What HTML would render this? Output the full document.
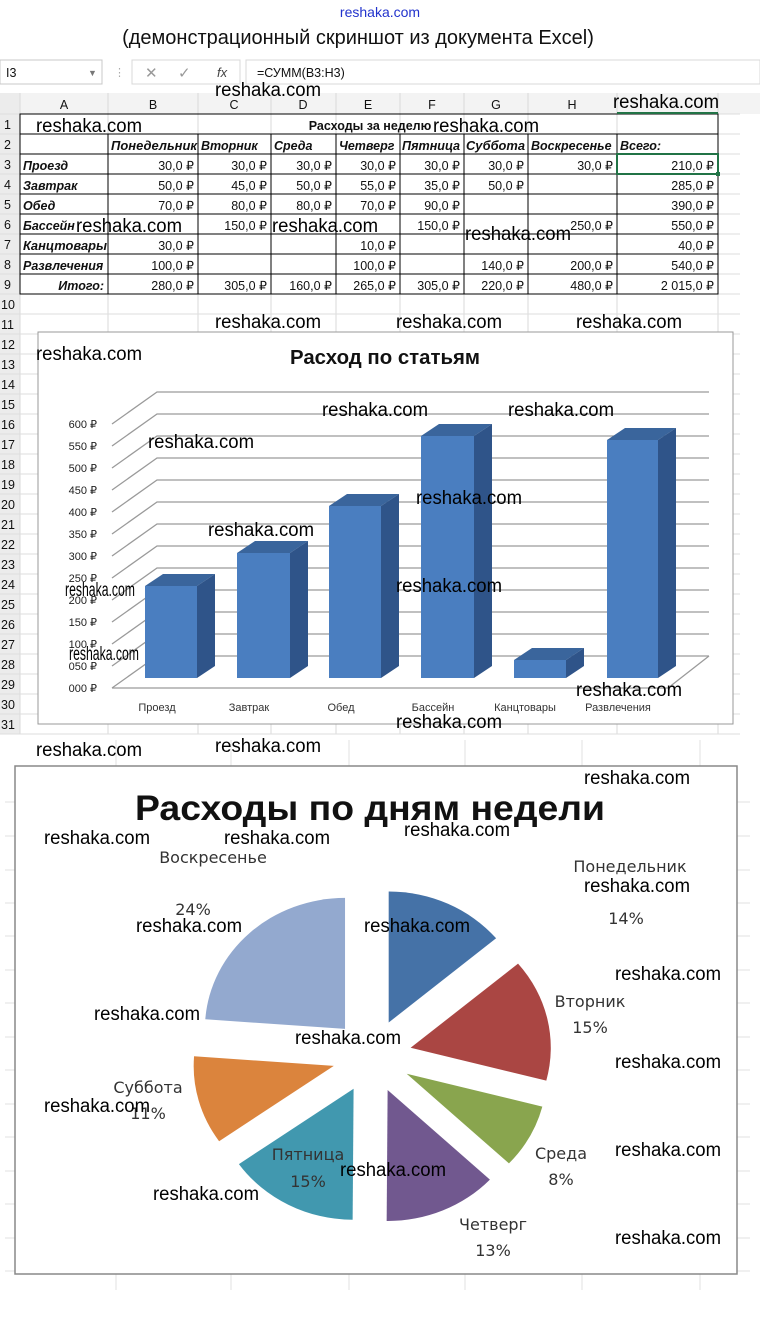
<!DOCTYPE html>
<html><head><meta charset="utf-8"><style>
html,body{margin:0;padding:0;background:#fff;}
svg{display:block;}
text{font-family:"Liberation Sans",sans-serif;}
.n{font-family:"Liberation Sans Narrow","Liberation Sans",sans-serif;font-size:12.5px;fill:#111;}
.w{font-family:"Liberation Sans Narrow","Liberation Sans",sans-serif;font-size:19px;fill:#000;text-anchor:middle;}
.h{font-family:"Liberation Sans Narrow","Liberation Sans",sans-serif;font-size:12.5px;fill:#111;font-weight:bold;font-style:italic;}
.ax{font-family:"Liberation Sans Narrow","Liberation Sans",sans-serif;font-size:11px;fill:#222;text-anchor:end;}
.cat{font-family:"Liberation Sans Narrow","Liberation Sans",sans-serif;font-size:11px;fill:#333;text-anchor:middle;}
.pl{font-family:"DejaVu Sans",sans-serif;font-size:16px;fill:#333;text-anchor:middle;}
</style></head><body>
<svg width="760" height="1326" viewBox="0 0 760 1326" xmlns="http://www.w3.org/2000/svg">
<rect width="760" height="1326" fill="#fff"/>
<text x="380" y="17" font-size="14" fill="#2233cc" text-anchor="middle">reshaka.com</text>
<text x="358" y="44" font-size="20" fill="#111" text-anchor="middle">(демонстрационный скриншот из документа Excel)</text>

<rect x="0" y="56" width="760" height="34" fill="#fff"/>
<rect x="0" y="60" width="102" height="24" fill="#fff" stroke="#c8c8c8"/>
<text x="6" y="77" class="n">I3</text>
<text x="88" y="76" font-size="9" fill="#777">▼</text>
<text x="114" y="76" font-size="11" fill="#aaa">⋮</text>
<rect x="132" y="60" width="108" height="24" fill="#fff" stroke="#d8d8d8"/>
<text x="145" y="78" font-size="15" fill="#999">✕</text>
<text x="178" y="78" font-size="15" fill="#999">✓</text>
<text x="217" y="77" font-size="13" fill="#444" font-style="italic" font-family="Liberation Serif">fx</text>
<rect x="246" y="60" width="514" height="24" fill="#fff" stroke="#d8d8d8"/>
<text x="257" y="77" class="n">=СУММ(B3:H3)</text>

<rect x="0" y="93" width="760" height="21" fill="#f3f3f3"/>
<rect x="0" y="93" width="20" height="641" fill="#ececec"/>
<g stroke="#dadada" stroke-width="1">
<line x1="20" y1="93" x2="20" y2="734"/><line x1="108" y1="93" x2="108" y2="734"/><line x1="198" y1="93" x2="198" y2="734"/><line x1="271" y1="93" x2="271" y2="734"/><line x1="336" y1="93" x2="336" y2="734"/><line x1="400" y1="93" x2="400" y2="734"/><line x1="464" y1="93" x2="464" y2="734"/><line x1="528" y1="93" x2="528" y2="734"/><line x1="617" y1="93" x2="617" y2="734"/><line x1="718" y1="93" x2="718" y2="734"/>
</g>
<g stroke="#dedede">
<line x1="0" y1="114" x2="740" y2="114"/><line x1="0" y1="134" x2="740" y2="134"/><line x1="0" y1="154" x2="740" y2="154"/><line x1="0" y1="174" x2="740" y2="174"/><line x1="0" y1="194" x2="740" y2="194"/><line x1="0" y1="214" x2="740" y2="214"/><line x1="0" y1="234" x2="740" y2="234"/><line x1="0" y1="254" x2="740" y2="254"/><line x1="0" y1="274" x2="740" y2="274"/><line x1="0" y1="294" x2="740" y2="294"/><line x1="0" y1="314" x2="740" y2="314"/><line x1="0" y1="334" x2="740" y2="334"/><line x1="0" y1="354" x2="740" y2="354"/><line x1="0" y1="374" x2="740" y2="374"/><line x1="0" y1="394" x2="740" y2="394"/><line x1="0" y1="414" x2="740" y2="414"/><line x1="0" y1="434" x2="740" y2="434"/><line x1="0" y1="454" x2="740" y2="454"/><line x1="0" y1="474" x2="740" y2="474"/><line x1="0" y1="494" x2="740" y2="494"/><line x1="0" y1="514" x2="740" y2="514"/><line x1="0" y1="534" x2="740" y2="534"/><line x1="0" y1="554" x2="740" y2="554"/><line x1="0" y1="574" x2="740" y2="574"/><line x1="0" y1="594" x2="740" y2="594"/><line x1="0" y1="614" x2="740" y2="614"/><line x1="0" y1="634" x2="740" y2="634"/><line x1="0" y1="654" x2="740" y2="654"/><line x1="0" y1="674" x2="740" y2="674"/><line x1="0" y1="694" x2="740" y2="694"/><line x1="0" y1="714" x2="740" y2="714"/><line x1="0" y1="734" x2="740" y2="734"/>
</g>
<text x="64" y="109" class="n" text-anchor="middle">A</text><text x="153" y="109" class="n" text-anchor="middle">B</text><text x="234" y="109" class="n" text-anchor="middle">C</text><text x="303" y="109" class="n" text-anchor="middle">D</text><text x="368" y="109" class="n" text-anchor="middle">E</text><text x="432" y="109" class="n" text-anchor="middle">F</text><text x="496" y="109" class="n" text-anchor="middle">G</text><text x="572" y="109" class="n" text-anchor="middle">H</text>
<g>
<text x="4" y="129" class="n">1</text><text x="4" y="149" class="n">2</text><text x="4" y="169" class="n">3</text><text x="4" y="189" class="n">4</text><text x="4" y="209" class="n">5</text><text x="4" y="229" class="n">6</text><text x="4" y="249" class="n">7</text><text x="4" y="269" class="n">8</text><text x="4" y="289" class="n">9</text><text x="1" y="309" class="n">10</text><text x="1" y="329" class="n">11</text><text x="1" y="349" class="n">12</text><text x="1" y="369" class="n">13</text><text x="1" y="389" class="n">14</text><text x="1" y="409" class="n">15</text><text x="1" y="429" class="n">16</text><text x="1" y="449" class="n">17</text><text x="1" y="469" class="n">18</text><text x="1" y="489" class="n">19</text><text x="1" y="509" class="n">20</text><text x="1" y="529" class="n">21</text><text x="1" y="549" class="n">22</text><text x="1" y="569" class="n">23</text><text x="1" y="589" class="n">24</text><text x="1" y="609" class="n">25</text><text x="1" y="629" class="n">26</text><text x="1" y="649" class="n">27</text><text x="1" y="669" class="n">28</text><text x="1" y="689" class="n">29</text><text x="1" y="709" class="n">30</text><text x="1" y="729" class="n">31</text>
</g>

<g stroke="#000" stroke-width="1" fill="none">
<rect x="20" y="114" width="698" height="180"/>
<line x1="20" y1="134" x2="718" y2="134"/><line x1="20" y1="154" x2="718" y2="154"/><line x1="20" y1="174" x2="718" y2="174"/><line x1="20" y1="194" x2="718" y2="194"/><line x1="20" y1="214" x2="718" y2="214"/><line x1="20" y1="234" x2="718" y2="234"/><line x1="20" y1="254" x2="718" y2="254"/><line x1="20" y1="274" x2="718" y2="274"/>
<line x1="108" y1="134" x2="108" y2="294"/><line x1="198" y1="134" x2="198" y2="294"/><line x1="271" y1="134" x2="271" y2="294"/><line x1="336" y1="134" x2="336" y2="294"/><line x1="400" y1="134" x2="400" y2="294"/><line x1="464" y1="134" x2="464" y2="294"/><line x1="528" y1="134" x2="528" y2="294"/><line x1="617" y1="134" x2="617" y2="294"/>
</g>
<rect x="617" y="154" width="101" height="20" fill="none" stroke="#217346" stroke-width="2"/>
<rect x="716" y="172" width="4" height="4" fill="#217346"/>
<line x1="617" y1="113" x2="718" y2="113" stroke="#217346" stroke-width="2"/>

<text x="370" y="130" class="n" font-weight="bold" text-anchor="middle" font-size="12">Расходы за неделю</text>
<text x="111" y="150" class="h" textLength="86" lengthAdjust="spacingAndGlyphs">Понедельник</text><text x="201" y="150" class="h">Вторник</text><text x="274" y="150" class="h">Среда</text><text x="339" y="150" class="h">Четверг</text><text x="402" y="150" class="h" textLength="58" lengthAdjust="spacingAndGlyphs">Пятница</text><text x="466" y="150" class="h" textLength="59" lengthAdjust="spacingAndGlyphs">Суббота</text><text x="531" y="150" class="h">Воскресенье</text><text x="620" y="150" class="h">Всего:</text>
<text x="23" y="170" class="h">Проезд</text><text x="23" y="190" class="h">Завтрак</text><text x="23" y="210" class="h">Обед</text><text x="23" y="230" class="h">Бассейн</text><text x="23" y="250" class="h" textLength="84" lengthAdjust="spacingAndGlyphs">Канцтовары</text><text x="23" y="270" class="h">Развлечения</text><text x="104" y="290" class="h" text-anchor="end">Итого:</text>
<g>
<text x="194" y="170" class="n" text-anchor="end">30,0 ₽</text><text x="267" y="170" class="n" text-anchor="end">30,0 ₽</text><text x="332" y="170" class="n" text-anchor="end">30,0 ₽</text><text x="396" y="170" class="n" text-anchor="end">30,0 ₽</text><text x="460" y="170" class="n" text-anchor="end">30,0 ₽</text><text x="524" y="170" class="n" text-anchor="end">30,0 ₽</text><text x="613" y="170" class="n" text-anchor="end">30,0 ₽</text><text x="714" y="170" class="n" text-anchor="end">210,0 ₽</text>
<text x="194" y="190" class="n" text-anchor="end">50,0 ₽</text><text x="267" y="190" class="n" text-anchor="end">45,0 ₽</text><text x="332" y="190" class="n" text-anchor="end">50,0 ₽</text><text x="396" y="190" class="n" text-anchor="end">55,0 ₽</text><text x="460" y="190" class="n" text-anchor="end">35,0 ₽</text><text x="524" y="190" class="n" text-anchor="end">50,0 ₽</text><text x="714" y="190" class="n" text-anchor="end">285,0 ₽</text>
<text x="194" y="210" class="n" text-anchor="end">70,0 ₽</text><text x="267" y="210" class="n" text-anchor="end">80,0 ₽</text><text x="332" y="210" class="n" text-anchor="end">80,0 ₽</text><text x="396" y="210" class="n" text-anchor="end">70,0 ₽</text><text x="460" y="210" class="n" text-anchor="end">90,0 ₽</text><text x="714" y="210" class="n" text-anchor="end">390,0 ₽</text>
<text x="267" y="230" class="n" text-anchor="end">150,0 ₽</text><text x="460" y="230" class="n" text-anchor="end">150,0 ₽</text><text x="613" y="230" class="n" text-anchor="end">250,0 ₽</text><text x="714" y="230" class="n" text-anchor="end">550,0 ₽</text>
<text x="194" y="250" class="n" text-anchor="end">30,0 ₽</text><text x="396" y="250" class="n" text-anchor="end">10,0 ₽</text><text x="714" y="250" class="n" text-anchor="end">40,0 ₽</text>
<text x="194" y="270" class="n" text-anchor="end">100,0 ₽</text><text x="396" y="270" class="n" text-anchor="end">100,0 ₽</text><text x="524" y="270" class="n" text-anchor="end">140,0 ₽</text><text x="613" y="270" class="n" text-anchor="end">200,0 ₽</text><text x="714" y="270" class="n" text-anchor="end">540,0 ₽</text>
<text x="194" y="290" class="n" text-anchor="end">280,0 ₽</text><text x="267" y="290" class="n" text-anchor="end">305,0 ₽</text><text x="332" y="290" class="n" text-anchor="end">160,0 ₽</text><text x="396" y="290" class="n" text-anchor="end">265,0 ₽</text><text x="460" y="290" class="n" text-anchor="end">305,0 ₽</text><text x="524" y="290" class="n" text-anchor="end">220,0 ₽</text><text x="613" y="290" class="n" text-anchor="end">480,0 ₽</text><text x="714" y="290" class="n" text-anchor="end">2 015,0 ₽</text>
</g>

<rect x="38" y="332" width="695" height="392" fill="#fff" stroke="#999"/>
<text x="385" y="364" font-size="20" font-weight="bold" fill="#111" text-anchor="middle" textLength="190" lengthAdjust="spacingAndGlyphs">Расход по статьям</text>
<g stroke="#9a9a9a" stroke-width="1.3" fill="none">
<path d="M112,688 L157,656 L709,656 M112,666 L157,634 L709,634 M112,644 L157,612 L709,612 M112,622 L157,590 L709,590 M112,600 L157,568 L709,568 M112,578 L157,546 L709,546 M112,556 L157,524 L709,524 M112,534 L157,502 L709,502 M112,512 L157,480 L709,480 M112,490 L157,458 L709,458 M112,468 L157,436 L709,436 M112,446 L157,414 L709,414 M112,424 L157,392 L709,392"/>
<path d="M112,688 L668,688 L709,656"/>
</g>
<g>
<text x="97" y="428" class="ax">600 ₽</text><text x="97" y="450" class="ax">550 ₽</text><text x="97" y="472" class="ax">500 ₽</text><text x="97" y="494" class="ax">450 ₽</text><text x="97" y="516" class="ax">400 ₽</text><text x="97" y="538" class="ax">350 ₽</text><text x="97" y="560" class="ax">300 ₽</text><text x="97" y="582" class="ax">250 ₽</text><text x="97" y="604" class="ax">200 ₽</text><text x="97" y="626" class="ax">150 ₽</text><text x="97" y="648" class="ax">100 ₽</text><text x="97" y="670" class="ax">050 ₽</text><text x="97" y="692" class="ax">000 ₽</text>
</g>
<g>
<polygon points="145,586 163,574 215,574 197,586" fill="#3a659c"/><polygon points="197,586 215,574 215,666 197,678" fill="#2f5489"/><rect x="145" y="586" width="52" height="92" fill="#4a7ec0"/>
<polygon points="237,553 255,541 308,541 290,553" fill="#3a659c"/><polygon points="290,553 308,541 308,666 290,678" fill="#2f5489"/><rect x="237" y="553" width="53" height="125" fill="#4a7ec0"/>
<polygon points="329,506 347,494 399,494 381,506" fill="#3a659c"/><polygon points="381,506 399,494 399,666 381,678" fill="#2f5489"/><rect x="329" y="506" width="52" height="172" fill="#4a7ec0"/>
<polygon points="421,436 439,424 492,424 474,436" fill="#3a659c"/><polygon points="474,436 492,424 492,666 474,678" fill="#2f5489"/><rect x="421" y="436" width="53" height="242" fill="#4a7ec0"/>
<polygon points="514,660 532,648 584,648 566,660" fill="#3a659c"/><polygon points="566,660 584,648 584,666 566,678" fill="#2f5489"/><rect x="514" y="660" width="52" height="18" fill="#4a7ec0"/>
<polygon points="607,440 625,428 676,428 658,440" fill="#3a659c"/><polygon points="658,440 676,428 676,666 658,678" fill="#2f5489"/><rect x="607" y="440" width="51" height="238" fill="#4a7ec0"/>
</g>
<text x="157" y="711" class="cat">Проезд</text><text x="249" y="711" class="cat">Завтрак</text><text x="341" y="711" class="cat">Обед</text><text x="433" y="711" class="cat">Бассейн</text><text x="525" y="711" class="cat">Канцтовары</text><text x="618" y="711" class="cat">Развлечения</text>

<g stroke="#e2e2e2">
<line x1="116" y1="740" x2="116" y2="1290"/><line x1="231" y1="740" x2="231" y2="1290"/><line x1="349" y1="740" x2="349" y2="1290"/><line x1="465" y1="740" x2="465" y2="1290"/><line x1="582" y1="740" x2="582" y2="1290"/><line x1="700" y1="740" x2="700" y2="1290"/>
<line x1="5" y1="802" x2="750" y2="802"/><line x1="5" y1="836" x2="750" y2="836"/><line x1="5" y1="870" x2="750" y2="870"/><line x1="5" y1="903" x2="750" y2="903"/><line x1="5" y1="936" x2="750" y2="936"/><line x1="5" y1="970" x2="750" y2="970"/><line x1="5" y1="1003" x2="750" y2="1003"/><line x1="5" y1="1037" x2="750" y2="1037"/><line x1="5" y1="1070" x2="750" y2="1070"/><line x1="5" y1="1104" x2="750" y2="1104"/><line x1="5" y1="1137" x2="750" y2="1137"/><line x1="5" y1="1171" x2="750" y2="1171"/><line x1="5" y1="1204" x2="750" y2="1204"/><line x1="5" y1="1238" x2="750" y2="1238"/><line x1="5" y1="1271" x2="750" y2="1271"/>
</g>

<rect x="15" y="766" width="722" height="508" fill="#fff" stroke="#888" stroke-width="1.5"/>
<text x="370" y="820" font-size="35" font-weight="bold" fill="#111" text-anchor="middle" font-family="DejaVu Sans, sans-serif" textLength="470" lengthAdjust="spacingAndGlyphs">Расходы по дням недели</text>
<g transform="translate(372,1056) scale(1.07,1)">
<path transform="translate(15.6,-33.5)" d="M0,0 L0,-131 A131,131 0 0 1 100.4,-84.2 Z" fill="#4572a7"/>
<path transform="translate(36.1,-8.2)" d="M0,0 L100.4,-84.2 A131,131 0 0 1 126.8,32.8 Z" fill="#aa4643"/>
<path transform="translate(32.4,17.8)" d="M0,0 L126.8,32.8 A131,131 0 0 1 95.6,89.6 Z" fill="#89a54e"/>
<path transform="translate(14.6,34)" d="M0,0 L95.6,89.6 A131,131 0 0 1 -0.9,131 Z" fill="#71588f"/>
<path transform="translate(-17.2,32.8)" d="M0,0 L-0.9,131 A131,131 0 0 1 -107.2,75.3 Z" fill="#4198af"/>
<path transform="translate(-35.7,9.9)" d="M0,0 L-107.2,75.3 A131,131 0 0 1 -130.6,-9.6 Z" fill="#db843d"/>
<path transform="translate(-25.2,-27.1)" d="M0,0 L-130.6,-9.6 A131,131 0 0 1 0,-131 Z" fill="#93a9cf"/>
</g>
<text x="630" y="872" class="pl">Понедельник</text><text x="626" y="924" class="pl">14%</text>
<text x="590" y="1007" class="pl">Вторник</text><text x="590" y="1033" class="pl">15%</text>
<text x="561" y="1159" class="pl">Среда</text><text x="561" y="1185" class="pl">8%</text>
<text x="493" y="1230" class="pl">Четверг</text><text x="493" y="1256" class="pl">13%</text>
<text x="308" y="1160" class="pl">Пятница</text><text x="308" y="1187" class="pl">15%</text>
<text x="148" y="1093" class="pl">Суббота</text><text x="148" y="1119" class="pl">11%</text>
<text x="213" y="863" class="pl">Воскресенье</text><text x="193" y="915" class="pl">24%</text>

<g>
<text x="268" y="96" class="w" textLength="106" lengthAdjust="spacingAndGlyphs">reshaka.com</text><text x="666" y="108" class="w" textLength="106" lengthAdjust="spacingAndGlyphs">reshaka.com</text><text x="89" y="132" class="w" textLength="106" lengthAdjust="spacingAndGlyphs">reshaka.com</text><text x="486" y="132" class="w" textLength="106" lengthAdjust="spacingAndGlyphs">reshaka.com</text><text x="129" y="232" class="w" textLength="106" lengthAdjust="spacingAndGlyphs">reshaka.com</text><text x="325" y="232" class="w" textLength="106" lengthAdjust="spacingAndGlyphs">reshaka.com</text><text x="518" y="240" class="w" textLength="106" lengthAdjust="spacingAndGlyphs">reshaka.com</text>
<text x="268" y="328" class="w" textLength="106" lengthAdjust="spacingAndGlyphs">reshaka.com</text><text x="449" y="328" class="w" textLength="106" lengthAdjust="spacingAndGlyphs">reshaka.com</text><text x="629" y="328" class="w" textLength="106" lengthAdjust="spacingAndGlyphs">reshaka.com</text><text x="89" y="360" class="w" textLength="106" lengthAdjust="spacingAndGlyphs">reshaka.com</text><text x="201" y="448" class="w" textLength="106" lengthAdjust="spacingAndGlyphs">reshaka.com</text><text x="375" y="416" class="w" textLength="106" lengthAdjust="spacingAndGlyphs">reshaka.com</text><text x="561" y="416" class="w" textLength="106" lengthAdjust="spacingAndGlyphs">reshaka.com</text><text x="261" y="536" class="w" textLength="106" lengthAdjust="spacingAndGlyphs">reshaka.com</text><text x="469" y="504" class="w" textLength="106" lengthAdjust="spacingAndGlyphs">reshaka.com</text><text x="449" y="592" class="w" textLength="106" lengthAdjust="spacingAndGlyphs">reshaka.com</text><text x="629" y="696" class="w" textLength="106" lengthAdjust="spacingAndGlyphs">reshaka.com</text><text x="449" y="728" class="w" textLength="106" lengthAdjust="spacingAndGlyphs">reshaka.com</text>
<text x="100" y="596" class="w" font-size="13" textLength="70" lengthAdjust="spacingAndGlyphs">reshaka.com</text><text x="104" y="660" class="w" font-size="13" textLength="70" lengthAdjust="spacingAndGlyphs">reshaka.com</text>
<text x="89" y="756" class="w" textLength="106" lengthAdjust="spacingAndGlyphs">reshaka.com</text><text x="268" y="752" class="w" textLength="106" lengthAdjust="spacingAndGlyphs">reshaka.com</text><text x="637" y="784" class="w" textLength="106" lengthAdjust="spacingAndGlyphs">reshaka.com</text><text x="97" y="844" class="w" textLength="106" lengthAdjust="spacingAndGlyphs">reshaka.com</text><text x="277" y="844" class="w" textLength="106" lengthAdjust="spacingAndGlyphs">reshaka.com</text><text x="457" y="836" class="w" textLength="106" lengthAdjust="spacingAndGlyphs">reshaka.com</text><text x="637" y="892" class="w" textLength="106" lengthAdjust="spacingAndGlyphs">reshaka.com</text><text x="189" y="932" class="w" textLength="106" lengthAdjust="spacingAndGlyphs">reshaka.com</text><text x="417" y="932" class="w" textLength="106" lengthAdjust="spacingAndGlyphs">reshaka.com</text><text x="147" y="1020" class="w" textLength="106" lengthAdjust="spacingAndGlyphs">reshaka.com</text><text x="348" y="1044" class="w" textLength="106" lengthAdjust="spacingAndGlyphs">reshaka.com</text><text x="668" y="980" class="w" textLength="106" lengthAdjust="spacingAndGlyphs">reshaka.com</text><text x="668" y="1068" class="w" textLength="106" lengthAdjust="spacingAndGlyphs">reshaka.com</text><text x="97" y="1112" class="w" textLength="106" lengthAdjust="spacingAndGlyphs">reshaka.com</text><text x="393" y="1176" class="w" textLength="106" lengthAdjust="spacingAndGlyphs">reshaka.com</text><text x="206" y="1200" class="w" textLength="106" lengthAdjust="spacingAndGlyphs">reshaka.com</text><text x="668" y="1156" class="w" textLength="106" lengthAdjust="spacingAndGlyphs">reshaka.com</text><text x="668" y="1244" class="w" textLength="106" lengthAdjust="spacingAndGlyphs">reshaka.com</text>
</g>
</svg>
</body></html>
